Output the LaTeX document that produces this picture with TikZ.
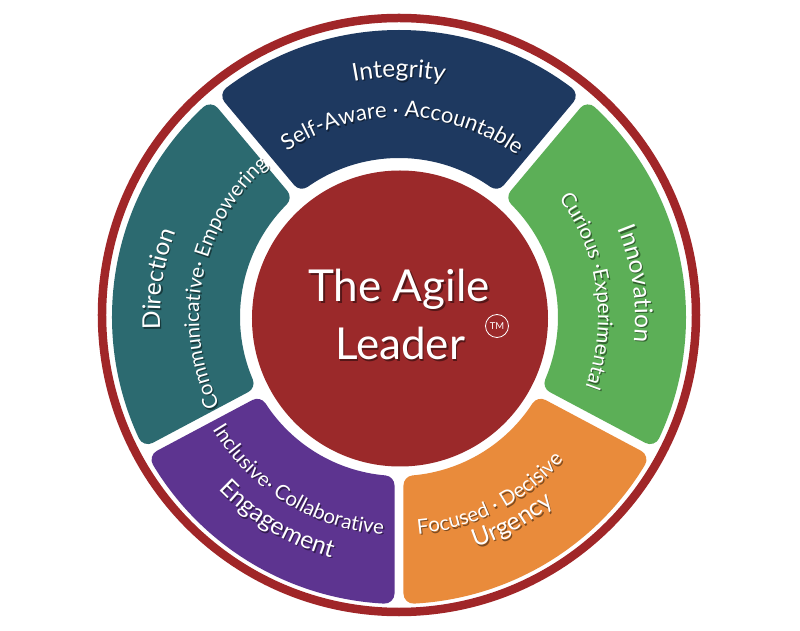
\documentclass[tikz,border=0pt]{standalone}
\usepackage{fontspec}
\setmainfont{Lato}
\usetikzlibrary{decorations.text}
\definecolor{ringred}{RGB}{160,38,40}
\definecolor{corered}{RGB}{155,41,42}
\definecolor{navyseg}{RGB}{30,57,96}
\definecolor{tealseg}{RGB}{44,106,112}
\definecolor{greenseg}{RGB}{92,175,87}
\definecolor{orangeseg}{RGB}{233,139,59}
\definecolor{purpleseg}{RGB}{93,52,144}
\newcommand\titlefont{\fontsize{24.5}{28}\selectfont}
\newcommand\subfont{\fontsize{22}{25}\selectfont}
\newcommand\subfontsm{\fontsize{20.5}{24}\selectfont}
\newcommand\segshape[3]{% start angle, end angle, colour
  \path[segstyle=#3] ({#1+3.0}:277) arc[start angle={#1+3.0}, end angle={#2-3.0}, radius=277]
    -- ({#2-4.92}:169) arc[start angle={#2-4.92}, end angle={#1+4.92}, radius=169] -- cycle;}
\newcommand\arclabel[5]{% start, end, radius, font, text
  \begin{scope}[opacity=0.45]
    \path[decorate, decoration={text along path, text align=center, text color=black, text={|#4|#5}}]
      ([shift={(1.3,-1.5)}]#1:#3) arc[start angle=#1, end angle=#2, radius=#3];
  \end{scope}
  \path[decorate, decoration={text along path, text align=center, text color=white, text={|#4|#5}}]
    (#1:#3) arc[start angle=#1, end angle=#2, radius=#3];}
\tikzset{
  segstyle/.style={fill=#1, draw=#1, line width=20pt, line join=round},
  centertext/.style={font=\fontsize{44}{48}\selectfont, text=white, inner sep=0pt},
  centershadow/.style={font=\fontsize{44}{48}\selectfont, text=black, opacity=0.45, inner sep=0pt}
}
\begin{document}
\begin{tikzpicture}[x=1pt, y=1pt]
\useasboundingbox (-399,-314) rectangle (401,317);
\fill[white] (-399,-314) rectangle (401,317);
% outer ring
\draw[ringred, line width=8.5pt] (0,2) circle[radius=297];
% segments
\segshape{50}{130}{navyseg}
\segshape{130}{208}{tealseg}
\segshape{208}{270}{purpleseg}
\segshape{270}{332}{orangeseg}
\segshape{-28}{50}{greenseg}
% core
\fill[corered] (1,-1.5) circle[radius=148];
% titles and qualities
\arclabel{130}{50}{240}{\titlefont}{Integrity}
\arclabel{139}{39}{200}{\subfont}{Self-Aware · Accountable}
\arclabel{211}{131}{239}{\titlefont}{Direction}
\arclabel{218.5}{118.5}{200}{\subfontsm}{Communicative· Empowering}
\arclabel{48}{-32}{236}{\titlefont}{Innovation}
\arclabel{58}{-42}{199}{\subfontsm}{Curious ·Experimental}
\arclabel{199}{279}{250}{\titlefont}{Engagement}
\arclabel{188.5}{288.5}{218}{\subfontsm}{Inclusive· Collaborative}
\arclabel{259}{339}{243}{\titlefont}{Urgency}
\arclabel{247}{347}{218}{\subfontsm}{Focused · Decisive}
% centre text
\node[centershadow, anchor=base] (t1s) at (1.8,13.2) {The Agile};
\node[centershadow, anchor=base] (t2s) at (2.8,-44.8) {Leader};
\node[centertext, anchor=base] (t1) at (0,15) {The Agile};
\node[centertext, anchor=base] (t2) at (1,-43) {Leader};
\node[draw=white, circle, line width=0.8pt, inner sep=0pt, minimum size=23pt, text=white,
      font=\fontsize{9.5}{10}\selectfont] (tm) at (98,-9) {TM};
\end{tikzpicture}
\end{document}
